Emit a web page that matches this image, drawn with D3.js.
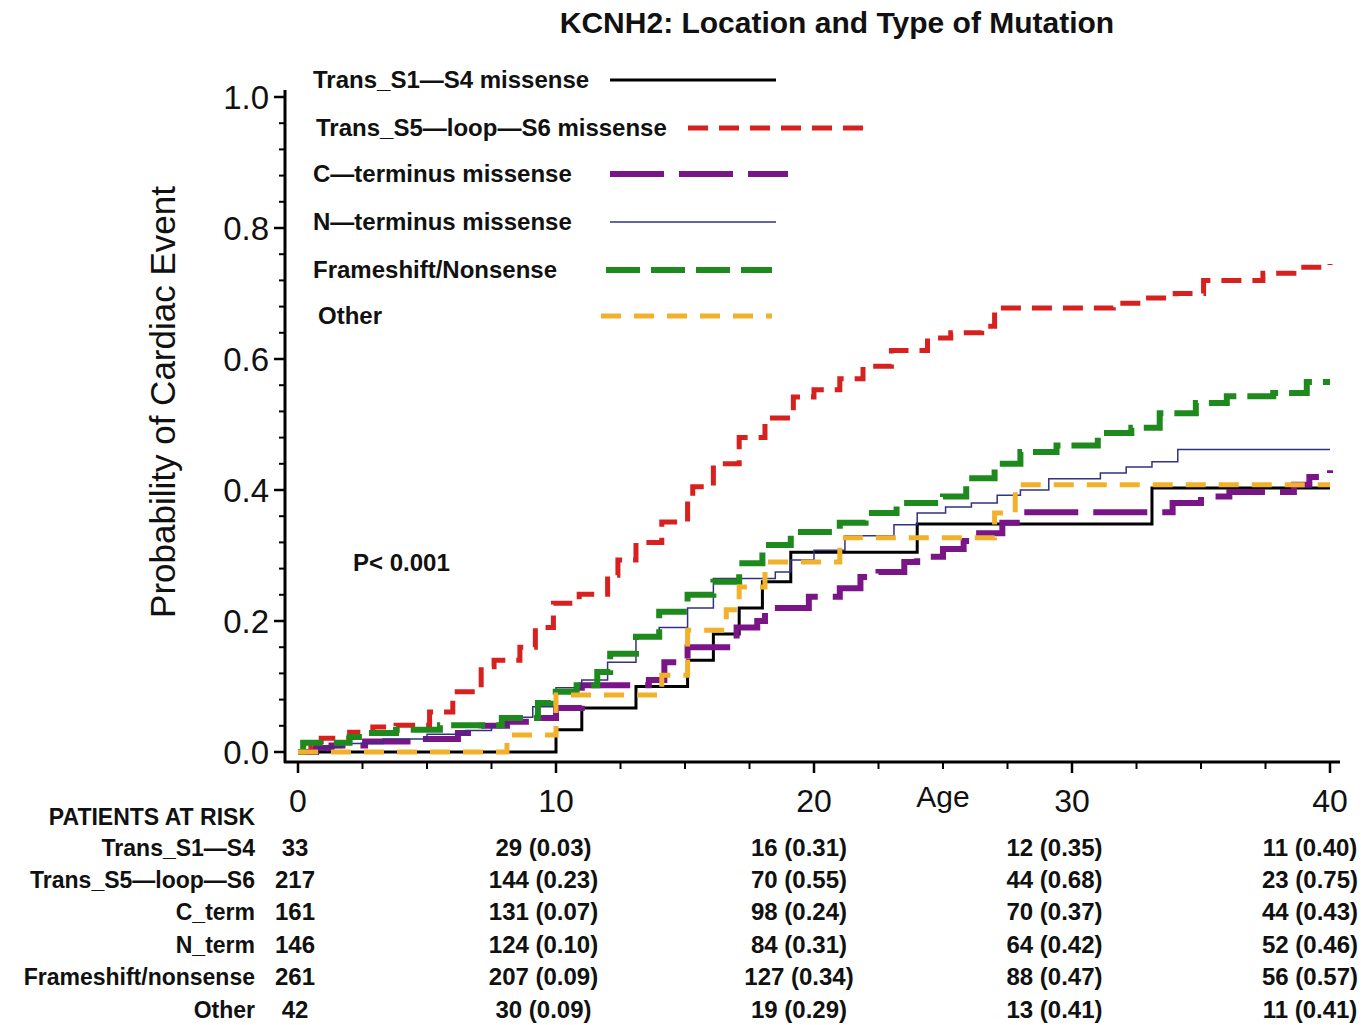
<!DOCTYPE html>
<html>
<head>
<meta charset="utf-8">
<script src="https://cdn.jsdelivr.net/npm/d3@7"></script>
<style>
  body { margin: 0; background: #fff; }
  text { font-family: "Liberation Sans", Arial, sans-serif; fill: #111; }
</style>
</head>
<body>
<svg id="chart" width="1364" height="1025"></svg>
<script>
// series keys, legend and table labels
let seriesKeys = ["s1s4", "s5s6", "cterm", "nterm", "frame", "other"];
let legendLabels = ["Trans_S1\u2014S4 missense", "Trans_S5\u2014loop\u2014S6 missense", "C\u2014terminus missense",
    "N\u2014terminus missense", "Frameshift/Nonsense", "Other"];
let tableLabels = ["Trans_S1\u2014S4", "Trans_S5\u2014loop\u2014S6", "C_term", "N_term", "Frameshift/nonsense", "Other"];

// step curves: [age, probability]
let s1s4 = [[0,0],[10,0.034],[11,0.067],[13.1,0.10],[15.1,0.14],[16.1,0.18],[17.1,0.22],[18,0.26],
    [19.1,0.305],[24,0.348],[33.1,0.403],[40,0.403]];
let s5s6 = [[0,0],[0.5,0.008],[0.9,0.021],[2.0,0.03],[2.9,0.038],[3.8,0.041],[5.1,0.061],[6.0,0.092],
    [7.1,0.13],[7.6,0.14],[8.6,0.16],[9.2,0.19],[9.9,0.227],[10.9,0.241],[12.0,0.27],[12.4,0.293],
    [13.1,0.32],[14.1,0.351],[15.1,0.39],[15.3,0.405],[16.1,0.44],[17.1,0.48],[18.1,0.51],[19.2,0.542],
    [20.0,0.553],[21.0,0.57],[21.9,0.589],[23.0,0.613],[24.4,0.632],[25.3,0.64],[26.5,0.65],[27.0,0.678],
    [31.6,0.685],[32.8,0.693],[34.0,0.70],[35.1,0.72],[37.4,0.731],[38.6,0.74],[40,0.745]];
let cterm = [[0,0],[0.7,0.006],[1.3,0.01],[2.6,0.016],[4.8,0.02],[6.2,0.029],[7.1,0.04],[8.1,0.046],
    [9.0,0.052],[10,0.067],[11.0,0.102],[13.6,0.11],[14.2,0.137],[15.1,0.16],[17.0,0.19],[17.8,0.2],
    [18.1,0.22],[19.8,0.237],[21.0,0.25],[21.8,0.267],[22.5,0.275],[23.5,0.29],[24.0,0.298],[25.0,0.31],
    [25.8,0.322],[26.4,0.334],[27.3,0.35],[28.0,0.366],[33.9,0.38],[35.0,0.39],[36.1,0.397],
    [38.6,0.408],[39.2,0.42],[40,0.43]];
let nterm = [[0,0],[0.8,0.007],[1.7,0.013],[3.3,0.02],[5.0,0.027],[6.5,0.033],[7.5,0.04],[8.1,0.053],
    [9.1,0.069],[10.0,0.098],[11.0,0.11],[12.0,0.137],[13.1,0.174],[14.0,0.19],[15.1,0.22],[16.1,0.265],
    [18.5,0.275],[19.1,0.293],[20.0,0.308],[21.2,0.33],[23.1,0.347],[24.0,0.365],[25.1,0.374],[26.1,0.38],
    [27.1,0.392],[28.0,0.40],[29.1,0.417],[31.1,0.426],[32.1,0.435],[33.1,0.443],[34.1,0.462],[40,0.462]];
let frame = [[0,0],[0.2,0.014],[2.0,0.023],[2.6,0.029],[3.8,0.034],[5.5,0.041],[7.9,0.052],[9.3,0.075],
    [9.8,0.092],[10.8,0.102],[11.6,0.122],[12.1,0.15],[13.1,0.176],[14.0,0.214],[15.1,0.24],[16.1,0.26],
    [17.1,0.288],[18.0,0.316],[19.1,0.336],[21.0,0.35],[22.0,0.365],[23.2,0.38],[25.0,0.39],[25.9,0.418],
    [27.0,0.44],[28.0,0.458],[29.4,0.468],[31.0,0.487],[32.3,0.495],[33.4,0.517],[34.8,0.533],
    [36.0,0.543],[37.8,0.548],[39.1,0.565],[40,0.565]];
let other = [[0,0],[8.1,0.026],[10.0,0.087],[14.1,0.117],[15.1,0.186],[16.6,0.217],[17.1,0.252],
    [18.1,0.29],[21.0,0.327],[27.0,0.365],[27.8,0.408],[40,0.408]];

// patients at risk table
let riskAges = [0, 10, 20, 30, 40];
let riskN = [[33,29,16,12,11],[217,144,70,44,23],[161,131,98,70,44],[146,124,84,64,52],[261,207,127,88,56],[42,30,19,13,11]];
let riskP = [[null,"0.03","0.31","0.35","0.40"],[null,"0.23","0.55","0.68","0.75"],[null,"0.07","0.24","0.37","0.43"],
    [null,"0.10","0.31","0.42","0.46"],[null,"0.09","0.34","0.47","0.57"],[null,"0.09","0.29","0.41","0.41"]];

let yTicks = [0, 0.2, 0.4, 0.6, 0.8, 1.0];
let xTicks = [0, 10, 20, 30, 40];

let curves = {s1s4, s5s6, cterm, nterm, frame, other};
let styles = {
    s1s4:  {color: "#000000", width: 3,   dash: null},
    s5s6:  {color: "#d8201f", width: 5,   dash: "20,11"},
    cterm: {color: "#7a1587", width: 6,   dash: "54,15"},
    nterm: {color: "#33337f", width: 1.5, dash: null},
    frame: {color: "#1e8a1e", width: 6,   dash: "34,11"},
    other: {color: "#f2b12b", width: 5,   dash: "20,13"}
};

let svg = d3.select("#chart");

let x = d3.scaleLinear().domain([0, 40]).range([298, 1330]);
let y = d3.scaleLinear().domain([0, 1]).range([752, 97]);

// title
svg.append("text")
    .attr("x", 837).attr("y", 33)
    .attr("text-anchor", "middle")
    .style("font-size", "30px").style("font-weight", "bold")
    .text("KCNH2: Location and Type of Mutation");

// y axis
let yAxis = svg.append("g").attr("transform", "translate(285,0)");
yAxis.append("line").attr("x1", 0).attr("x2", 0).attr("y1", 90).attr("y2", 763)
    .attr("stroke", "#000").attr("stroke-width", 3);
yAxis.selectAll(".ymin").data(d3.range(0, 1.0001, 0.04)).enter().append("line")
    .attr("x1", -6).attr("x2", 0)
    .attr("y1", d => y(d)).attr("y2", d => y(d))
    .attr("stroke", "#000").attr("stroke-width", 2);
yAxis.selectAll(".ymaj").data(yTicks).enter().append("line")
    .attr("x1", -11).attr("x2", 0)
    .attr("y1", d => y(d)).attr("y2", d => y(d))
    .attr("stroke", "#000").attr("stroke-width", 2.5);
yAxis.selectAll(".ylab").data(yTicks).enter().append("text")
    .attr("x", -16).attr("y", d => y(d) + 12)
    .attr("text-anchor", "end")
    .style("font-size", "33px")
    .text(d => d.toFixed(1));

svg.append("text")
    .attr("transform", "translate(175,402) rotate(-90)")
    .attr("text-anchor", "middle")
    .style("font-size", "35px")
    .text("Probability of Cardiac Event");

// x axis
let xAxis = svg.append("g").attr("transform", "translate(0,762)");
xAxis.append("line").attr("x1", 284).attr("x2", 1340).attr("y1", 0).attr("y2", 0)
    .attr("stroke", "#000").attr("stroke-width", 3);
xAxis.selectAll(".xmin").data(d3.range(0, 40.01, 2.5)).enter().append("line")
    .attr("x1", d => x(d)).attr("x2", d => x(d))
    .attr("y1", 0).attr("y2", 7)
    .attr("stroke", "#000").attr("stroke-width", 2);
xAxis.selectAll(".xmaj").data(xTicks).enter().append("line")
    .attr("x1", d => x(d)).attr("x2", d => x(d))
    .attr("y1", 0).attr("y2", 11)
    .attr("stroke", "#000").attr("stroke-width", 2.5);
xAxis.selectAll(".xlab").data(xTicks).enter().append("text")
    .attr("x", d => x(d)).attr("y", 50)
    .attr("text-anchor", "middle")
    .style("font-size", "32px")
    .text(d => d);
svg.append("text")
    .attr("x", x(25)).attr("y", 807)
    .attr("text-anchor", "middle")
    .style("font-size", "30px")
    .text("Age");

// curves
let line = d3.line()
    .x(d => x(d[0]))
    .y(d => y(d[1]))
    .curve(d3.curveStepAfter);

svg.append("g").selectAll("path")
    .data(seriesKeys)
    .enter().append("path")
    .attr("d", k => line(curves[k]))
    .attr("fill", "none")
    .attr("stroke", k => styles[k].color)
    .attr("stroke-width", k => styles[k].width)
    .attr("stroke-dasharray", k => styles[k].dash);

// legend
let legendY = [80, 128, 174, 222, 270, 316];
let legendText = [313, 316, 313, 313, 313, 318];
let legendLine = [[610, 776], [688, 868], [610, 788], [610, 776], [606, 772], [601, 772]];
let legend = svg.append("g");
seriesKeys.forEach((k, i) => {
    legend.append("text")
        .attr("x", legendText[i]).attr("y", legendY[i] + 8)
        .style("font-size", "24px").style("font-weight", "bold")
        .text(legendLabels[i]);
    legend.append("line")
        .attr("x1", legendLine[i][0]).attr("x2", legendLine[i][1])
        .attr("y1", legendY[i]).attr("y2", legendY[i])
        .attr("stroke", styles[k].color)
        .attr("stroke-width", styles[k].width)
        .attr("stroke-dasharray", styles[k].dash);
});

svg.append("text")
    .attr("x", 353).attr("y", 571)
    .style("font-size", "24px").style("font-weight", "bold")
    .text("P< 0.001");

// patients at risk
let table = svg.append("g");
table.append("text")
    .attr("x", 255).attr("y", 825)
    .attr("text-anchor", "end")
    .style("font-size", "23px").style("font-weight", "bold")
    .text("PATIENTS AT RISK");
let rowY = [847, 879, 911, 944, 976, 1009];
tableLabels.forEach((lab, i) => {
    table.append("text")
        .attr("x", 255).attr("y", rowY[i] + 9)
        .attr("text-anchor", "end")
        .style("font-size", "23px").style("font-weight", "bold")
        .text(lab);
    riskAges.forEach((a, j) => {
        let t = riskP[i][j] === null ? String(riskN[i][j]) : riskN[i][j] + " (" + riskP[i][j] + ")";
        table.append("text")
            .attr("x", x(a) - (j === 0 ? 3 : 10 + a * 0.25)).attr("y", rowY[i] + 9)
            .attr("text-anchor", "middle")
            .style("font-size", "24px").style("font-weight", "bold")
            .text(t);
    });
});
</script>
</body>
</html>
